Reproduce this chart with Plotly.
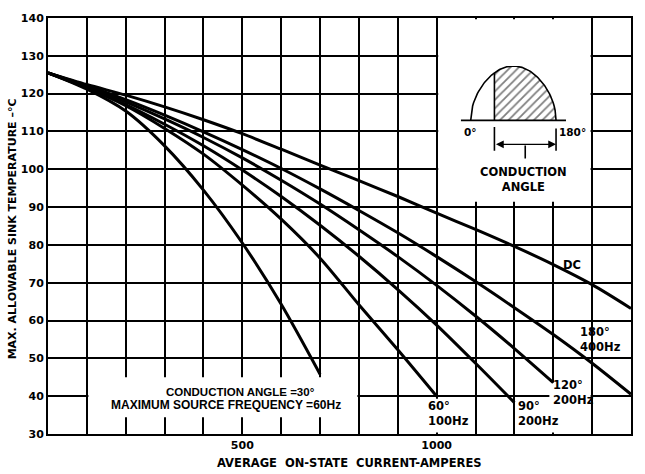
import numpy as np
import plotly.graph_objects as go

# Average on-state current (A), one reading every 100 A
current = list(range(0, 1600, 100))

# Maximum allowable sink temperature (deg C) per conduction angle / frequency
temp_dc = [125.5, 122.4, 119.6, 116.5, 113.1, 109.4, 105.3, 101.1, 97.0, 92.8,
           88.4, 84.1, 79.6, 74.8, 69.5, 63.2]
temp_180 = [125.5, 122.1, 118.4, 114.3, 109.9, 105.2, 100.2, 94.8, 89.1, 83.2,
            76.9, 70.3, 63.4, 56.3, 48.7, 40.5]
temp_120 = [125.5, 121.9, 117.8, 113.3, 108.4, 103.0, 97.1, 90.8, 84.0, 76.9,
            69.3, 61.2, 52.6, 43.6]
temp_90 = [125.5, 121.6, 117.1, 111.9, 106.2, 99.8, 92.8, 85.2, 77.0, 68.2,
           58.8, 48.7, 38.3]
temp_60 = [125.5, 121.5, 116.8, 110.8, 104.0, 95.8, 86.8, 76.5, 64.2, 52.3, 40.0]
temp_30 = [125.5, 121.2, 115.4, 106.2, 94.5, 80.5, 64.3, 45.8]

curves = [temp_dc, temp_180, temp_120, temp_90, temp_60, temp_30]

x_ticks = current
x_ticktext = ["500" if v == 500 else "1000" if v == 1000 else "1500" if v == 1500 else ""
              for v in x_ticks]
y_ticks = list(range(30, 150, 10))

FONT = "DejaVu Sans"
NARROW = "Liberation Sans"
INK = "black"

fig = go.Figure()

for t in curves:
    fig.add_trace(go.Scatter(
        x=current[:len(t)], y=t, mode="lines",
        line=dict(color=INK, width=3, shape="spline", smoothing=0.8),
        showlegend=False, hoverinfo="skip", xaxis="x", yaxis="y",
    ))

# --- inset: half-wave with the conducting part hatched ---
deg = np.linspace(0, 180, 91)
wave = np.sqrt(np.sin(np.radians(deg)))
fire_at = 50
deg_on = np.linspace(fire_at, 180, 66)
wave_on = np.sqrt(np.sin(np.radians(deg_on)))

fig.add_trace(go.Scatter(
    x=deg_on, y=wave_on, mode="lines", fill="tozeroy",
    line=dict(width=0, color="rgba(0,0,0,0)"),
    fillpattern=dict(shape="/", size=6, solidity=0.3, fgcolor=INK, bgcolor="white"),
    showlegend=False, hoverinfo="skip", xaxis="x2", yaxis="y2",
))
fig.add_trace(go.Scatter(
    x=deg, y=wave, mode="lines", line=dict(color=INK, width=1.6),
    showlegend=False, hoverinfo="skip", xaxis="x2", yaxis="y2",
))

shapes = []
# white panels behind the labels and the inset (above grid, below curves)
panels = [
    (104, 796, 34.4, 45.0),
    (968, 1076, 30.4, 39.3),
    (1205, 1320, 30.4, 39.3),
    (1290, 1396, 37.0, 43.6),
    (1362, 1396, 50.4, 59.2),
    (1004, 1396, 91.4, 139.7),
]
for x0, x1, y0, y1 in panels:
    shapes.append(dict(type="rect", xref="x", yref="y", x0=x0, x1=x1, y0=y0, y1=y1,
                       fillcolor="white", line=dict(width=0), layer="between"))

# inset line work
inset_lines = [
    (-21, 0, 201, 0),
    (fire_at, 0, fire_at, float(np.sqrt(np.sin(np.radians(fire_at))))),
    (fire_at, -0.12, fire_at, -0.56),
    (180, -0.15, 180, -0.56),
    (115, -0.46, 115, -0.70),
]
for x0, y0, x1, y1 in inset_lines:
    shapes.append(dict(type="line", xref="x2", yref="y2", x0=x0, y0=y0, x1=x1, y1=y1,
                       line=dict(color=INK, width=1.6), layer="above"))

annotations = []


def label(text, x, y, size=11.5, xanchor="center", xref="x", yref="y", align="center",
          weight="bold", family=FONT, **kw):
    annotations.append(dict(text=text, x=x, y=y, xref=xref, yref=yref, showarrow=False,
                            xanchor=xanchor, yanchor="middle", align=align,
                            font=dict(family=family, size=size, color=INK, weight=weight),
                            **kw))


label("DC", 1347, 74.6)
label("180°<br>400Hz", 1364, 54.9, xanchor="left", align="left")
label("120°<br>200Hz", 1294, 41.0, xanchor="left", align="left")
label("90°<br>200Hz", 1203, 35.5, xanchor="left", align="left")
label("60°<br>100Hz", 972, 35.5, xanchor="left", align="left")
label("CONDUCTION ANGLE =30°", 496, 41.2, size=11.5, family=NARROW)
label("MAXIMUM SOURCE FREQUENCY =60Hz", 458, 37.7, size=12, family=NARROW)

# inset texts
label("0°", 0, -0.215, size=10.5, xref="x2", yref="y2")
label("180°", 183, -0.215, size=10.5, xanchor="left", xref="x2", yref="y2")
label("CONDUCTION<br>ANGLE", 112, -1.08, xref="x2", yref="y2")
annotations.append(dict(x=180, y=-0.44, ax=fire_at, ay=-0.44, xref="x2", yref="y2",
                        axref="x2", ayref="y2", text="", showarrow=True,
                        arrowhead=2, arrowside="end+start", arrowsize=1.2,
                        arrowwidth=1.3, arrowcolor=INK))

# axis titles
label("AVERAGE  ON-STATE  CURRENT-AMPERES", 0.518, -0.069, xref="paper", yref="paper")
label("MAX. ALLOWABLE SINK TEMPERATURE –°C", -0.0617, 0.492, xref="paper", yref="paper",
      textangle=-90, size=11)

axis_common = dict(showgrid=True, gridcolor=INK, gridwidth=1.7, showline=True,
                   linecolor=INK, linewidth=2, mirror=True, zeroline=False, ticks="",
                   tickfont=dict(family=FONT, size=11, color=INK, weight="bold"),
                   fixedrange=True)

fig.update_layout(
    width=645, height=474, autosize=False,
    margin=dict(l=48, r=14, t=13, b=40),
    paper_bgcolor="white", plot_bgcolor="white",
    xaxis=dict(range=[0, 1500], tickmode="array", tickvals=x_ticks, ticktext=x_ticktext,
               **axis_common),
    yaxis=dict(range=[30, 140], tickmode="array", tickvals=y_ticks, **axis_common),
    xaxis2=dict(domain=[0.708, 0.8885], range=[-21, 201], visible=False, anchor="y2",
                fixedrange=True),
    yaxis2=dict(domain=[0.5708, 0.8846], range=[-1.4, 1], visible=False, anchor="x2",
                fixedrange=True),
    shapes=shapes, annotations=annotations, showlegend=False,
)

fig.write_html("out.html")
